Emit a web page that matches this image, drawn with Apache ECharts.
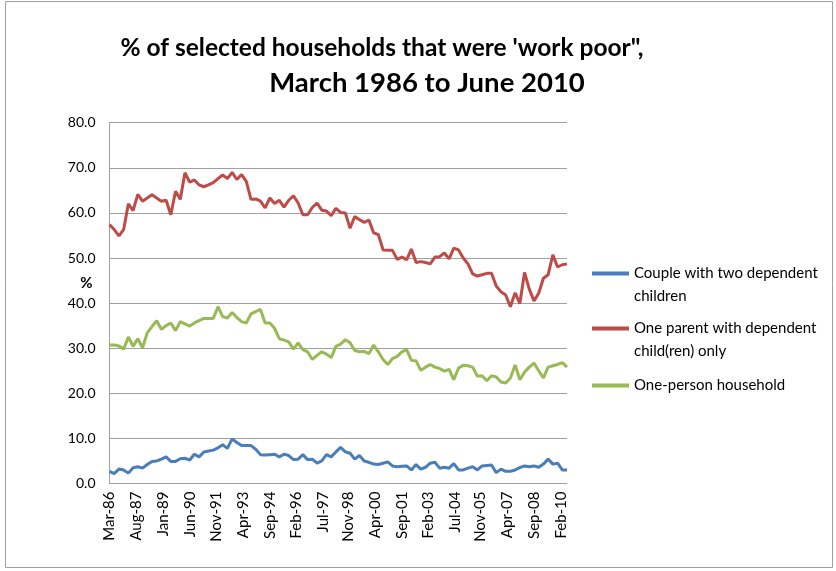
<!DOCTYPE html>
<html>
<head>
<meta charset="utf-8">
<script src="https://cdn.jsdelivr.net/npm/echarts@6/dist/echarts.min.js"></script>
<style>
html,body{margin:0;padding:0;background:#fff;}
#chart{width:836px;height:571px;}
</style>
</head>
<body>
<div id="chart"></div>
<script>
// Quarterly observation dates
const quarters = [
 'Mar-86','Jun-86','Sep-86','Dec-86','Mar-87','Jun-87','Sep-87','Dec-87',
 'Mar-88','Jun-88','Sep-88','Dec-88','Mar-89','Jun-89','Sep-89','Dec-89',
 'Mar-90','Jun-90','Sep-90','Dec-90','Mar-91','Jun-91','Sep-91','Dec-91',
 'Mar-92','Jun-92','Sep-92','Dec-92','Mar-93','Jun-93','Sep-93','Dec-93',
 'Mar-94','Jun-94','Sep-94','Dec-94','Mar-95','Jun-95','Sep-95','Dec-95',
 'Mar-96','Jun-96','Sep-96','Dec-96','Mar-97','Jun-97','Sep-97','Dec-97',
 'Mar-98','Jun-98','Sep-98','Dec-98','Mar-99','Jun-99','Sep-99','Dec-99',
 'Mar-00','Jun-00','Sep-00','Dec-00','Mar-01','Jun-01','Sep-01','Dec-01',
 'Mar-02','Jun-02','Sep-02','Dec-02','Mar-03','Jun-03','Sep-03','Dec-03',
 'Mar-04','Jun-04','Sep-04','Dec-04','Mar-05','Jun-05','Sep-05','Dec-05',
 'Mar-06','Jun-06','Sep-06','Dec-06','Mar-07','Jun-07','Sep-07','Dec-07',
 'Mar-08','Jun-08','Sep-08','Dec-08','Mar-09','Jun-09','Sep-09','Dec-09',
 'Mar-10','Jun-10'
];

const coupleTwoChildren = [
 2.7,2.2,3.2,3.0,2.3,3.5,3.7,3.4,4.2,4.9,5.0,5.4,5.9,4.9,4.9,5.5,
 5.6,5.2,6.5,5.9,7.0,7.2,7.4,7.9,8.6,7.8,9.9,9.1,8.4,8.4,8.4,7.6,
 6.4,6.3,6.4,6.5,5.9,6.5,6.2,5.3,5.4,6.4,5.3,5.4,4.5,5.0,6.4,5.9,
 7.0,8.0,7.0,6.7,5.4,6.2,5.0,4.7,4.3,4.2,4.5,4.8,3.9,3.7,3.8,3.9,
 3.0,4.2,3.2,3.6,4.5,4.7,3.4,3.6,3.4,4.4,3.0,3.0,3.4,3.7,3.0,3.9,
 4.0,4.1,2.4,3.2,2.7,2.7,3.0,3.5,3.9,3.7,3.9,3.6,4.3,5.4,4.3,4.5,
 3.0,3.0
];

const oneParent = [
 57.4,56.3,54.9,56.3,62.0,60.5,64.1,62.6,63.3,64.0,63.3,62.6,62.8,59.6,64.8,63.0,
 68.9,66.8,67.3,66.2,65.8,66.2,66.7,67.6,68.4,67.6,69.0,67.4,68.5,67.0,63.0,63.1,
 62.6,61.1,63.3,62.1,62.8,61.3,62.8,63.8,62.2,59.6,59.6,61.2,62.2,60.6,60.4,59.4,
 61.0,60.1,60.0,56.6,59.2,58.5,57.9,58.4,55.6,55.2,51.8,51.7,51.7,49.7,50.2,49.6,
 52.0,49.0,49.2,49.0,48.7,50.2,50.3,51.1,49.8,52.2,51.8,50.0,48.7,46.5,46.0,46.3,
 46.6,46.6,43.8,42.5,41.8,39.2,42.3,39.9,46.8,43.1,40.5,42.2,45.5,46.3,50.7,48.0,
 48.5,48.7
];

const onePerson = [
 30.7,30.7,30.5,29.8,32.5,30.4,32.1,30.1,33.4,34.8,36.1,34.2,35.0,35.6,33.9,35.9,
 35.4,34.9,35.6,36.1,36.6,36.6,36.6,39.2,37.0,36.7,37.9,36.8,35.9,35.6,37.6,38.1,
 38.6,35.6,35.6,34.4,32.1,31.8,31.4,29.8,31.2,29.7,29.2,27.5,28.4,29.2,28.7,27.9,
 30.4,30.9,31.9,31.2,29.5,29.2,29.3,28.8,30.7,29.2,27.5,26.4,27.7,28.2,29.2,29.7,
 27.3,27.2,25.1,25.8,26.4,25.8,25.5,24.9,25.3,23.0,25.6,26.2,26.1,25.8,23.8,23.9,
 22.8,23.9,23.6,22.5,22.3,23.4,26.3,23.0,24.7,25.8,26.7,25.0,23.4,25.8,26.1,26.4,
 26.8,25.8
];

const tickLabels = ['Mar-86','Aug-87','Jan-89','Jun-90','Nov-91','Apr-93','Sep-94','Feb-96','Jul-97',
 'Nov-98','Apr-00','Sep-01','Feb-03','Jul-04','Nov-05','Apr-07','Sep-08','Feb-10'];

const seriesNames = ['Couple with two dependent children','One parent with dependent child(ren) only','One-person household'];
const legendText = {
  'Couple with two dependent children': ' \nCouple with two dependent\nchildren',
  'One parent with dependent child(ren) only': ' \nOne parent with dependent\nchild(ren) only',
  'One-person household': 'One-person household'
};

const MONTHS = {Jan:0,Feb:1,Mar:2,Apr:3,May:4,Jun:5,Jul:6,Aug:7,Sep:8,Oct:9,Nov:10,Dec:11};
function monthIndex(s){
  const [m, yy] = s.split('-');
  const y = +yy < 50 ? 2000 + +yy : 1900 + +yy;
  return (y - 1986) * 12 + MONTHS[m] - 2;
}
const tickPos = tickLabels.map(monthIndex);
const labelByPos = {};
tickLabels.forEach((t,i)=>{ labelByPos[tickPos[i]] = t; });
const xs = quarters.map(monthIndex);
const pair = vals => vals.map((v,i)=>[xs[i], v]);

const FONT = 'Lato, "Open Sans", sans-serif';
const colors = ['#4a7ebb','#be4b48','#98b954'];

const chart = echarts.init(document.getElementById('chart'), null, {renderer:'canvas'});
chart.setOption({
  animation:false,
  backgroundColor:'#ffffff',
  title:[
    {text:"% of selected households that were 'work poor\",", left:377, top:31, textAlign:'center',
     textStyle:{fontFamily:'Lato, sans-serif', fontWeight:'bold', fontSize:24.5, color:'#000'}},
    {text:'March 1986 to June 2010', left:422, top:64, textAlign:'center',
     textStyle:{fontFamily:'Lato, sans-serif', fontWeight:'bold', fontSize:27.5, color:'#000'}}
  ],
  graphic:[{type:'rect', shape:{x:5.5,y:1.5,width:827,height:566}, style:{fill:'none', stroke:'#a0a0a0', lineWidth:1}, silent:true, z:-1}],
  legend:[0,1,2].map(k=>({
    data:[seriesNames[k]],
    orient:'vertical', left:592, top:[239,294,374][k], padding:0,
    itemWidth:37, itemHeight:4, icon:'rect',
    formatter: n => legendText[n],
    textStyle:{fontFamily:FONT, fontSize:15, color:'#000', lineHeight:23}
  })),
  grid:{left:109.5, right:269, top:122.7, bottom:87.5, containLabel:false},
  xAxis:{
    type:'value', min:0, max:291,
    axisLine:{show:true, lineStyle:{color:'#a0a0a0', width:1}},
    axisTick:{show:false},
    splitLine:{show:false},
    axisLabel:{customValues:tickPos, rotate:90, formatter:v=>labelByPos[v]||'', fontFamily:FONT, fontSize:15, color:'#000', margin:8}
  },
  yAxis:{
    type:'value', min:0, max:80, interval:10,
    name:'%\n ', nameLocation:'middle', nameRotate:0, nameGap:17, nameMoveOverlap:false,
    nameTextStyle:{fontFamily:FONT, fontSize:15, fontWeight:'bold', color:'#000', lineHeight:40},
    axisLine:{show:true, lineStyle:{color:'#a0a0a0', width:1}},
    axisTick:{show:false},
    splitLine:{show:true, lineStyle:{color:'#a0a0a0', width:1}},
    axisLabel:{formatter:v=>v.toFixed(1), fontFamily:FONT, fontSize:14, color:'#000', margin:14}
  },
  series:[coupleTwoChildren, oneParent, onePerson].map((vals,k)=>({
    name:seriesNames[k], type:'line', data:pair(vals), symbol:'none',
    lineStyle:{width:3, color:colors[k]}, itemStyle:{color:colors[k]}
  }))
});
</script>
</body>
</html>
